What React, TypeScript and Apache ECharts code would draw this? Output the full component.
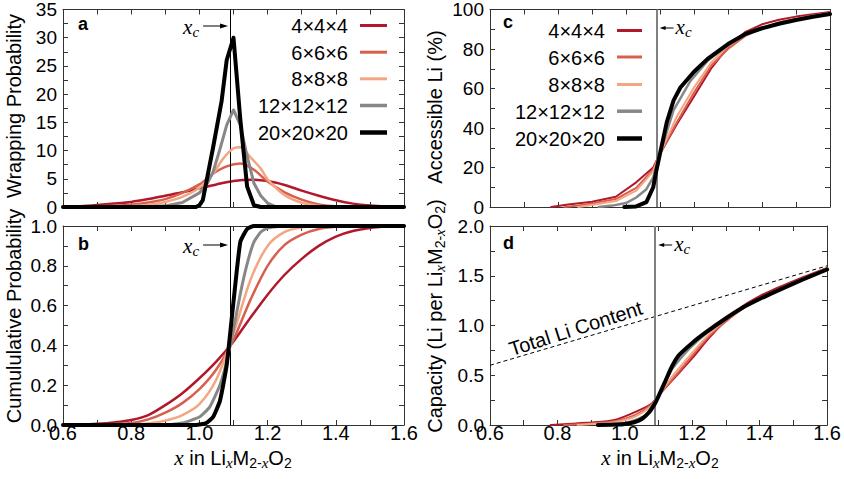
import React, { useEffect, useRef } from "react";
import * as echarts from "echarts";

// ---------- data ----------
const SIZES = ["4×4×4", "6×6×6", "8×8×8", "12×12×12", "20×20×20"];
const COLORS = ["#b2182b", "#d6604d", "#f4a582", "#878787", "#000000"];
const X_C = 1.09;

// panel a: wrapping probability
const WRAP_4 = [[0.6,0.05],[0.65,0.15],[0.7,0.35],[0.75,0.6],[0.8,0.9],[0.85,1.4],[0.9,2.0],[0.95,2.6],[1.0,3.3],[1.05,4.0],[1.1,4.6],[1.15,4.85],[1.2,4.6],[1.25,3.9],[1.3,2.9],[1.35,2.0],[1.4,1.2],[1.45,0.6],[1.5,0.25],[1.55,0.08],[1.6,0.02]];
const WRAP_6 = [[0.6,0.02],[0.7,0.1],[0.75,0.2],[0.8,0.4],[0.85,0.8],[0.9,1.4],[0.95,2.5],[1.0,4.0],[1.04,5.9],[1.08,7.2],[1.12,7.7],[1.16,6.6],[1.2,4.5],[1.25,2.6],[1.3,1.3],[1.35,0.45],[1.4,0.12],[1.45,0.02],[1.6,0]];
const WRAP_8 = [[0.6,0],[0.75,0.05],[0.8,0.15],[0.85,0.4],[0.9,0.9],[0.95,1.8],[1.0,3.4],[1.04,5.9],[1.07,8.6],[1.1,10.4],[1.12,10.6],[1.15,8.8],[1.18,6.8],[1.2,4.9],[1.25,2.1],[1.3,0.75],[1.35,0.2],[1.4,0.04],[1.45,0],[1.6,0]];
const WRAP_12 = [[0.6,0],[0.85,0],[0.9,0.2],[0.95,0.8],[1.0,2.5],[1.02,3.8],[1.04,6.2],[1.06,10.2],[1.08,14.5],[1.1,17.2],[1.12,14.5],[1.14,9.0],[1.16,4.2],[1.18,2.0],[1.2,0.7],[1.22,0.15],[1.24,0],[1.6,0]];
const WRAP_20 = [[0.6,0],[0.99,0],[1.0,0.3],[1.01,1.2],[1.04,10.5],[1.065,18.7],[1.08,26],[1.1,30],[1.12,15.5],[1.14,3.6],[1.16,0.3],[1.18,0],[1.6,0]];

// panel b: cumulative probability
const CUM_4 = [[0.6,0],[0.65,0.002],[0.7,0.006],[0.75,0.013],[0.8,0.025],[0.85,0.05],[0.9,0.1],[0.95,0.16],[1.0,0.235],[1.05,0.32],[1.1,0.42],[1.15,0.54],[1.2,0.655],[1.25,0.755],[1.3,0.835],[1.35,0.9],[1.4,0.947],[1.45,0.975],[1.5,0.99],[1.55,0.997],[1.6,1.0]];
const CUM_6 = [[0.6,0],[0.7,0.002],[0.8,0.01],[0.85,0.028],[0.9,0.062],[0.95,0.11],[1.0,0.18],[1.05,0.28],[1.1,0.43],[1.15,0.63],[1.2,0.8],[1.25,0.905],[1.3,0.957],[1.35,0.985],[1.4,0.996],[1.45,1.0],[1.6,1.0]];
const CUM_8 = [[0.6,0],[0.8,0.002],[0.85,0.008],[0.9,0.022],[0.95,0.05],[1.0,0.105],[1.05,0.23],[1.1,0.46],[1.15,0.73],[1.2,0.9],[1.25,0.97],[1.3,0.993],[1.35,1.0],[1.6,1.0]];
const CUM_12 = [[0.6,0],[0.9,0.002],[0.95,0.01],[1.0,0.04],[1.03,0.09],[1.06,0.2],[1.08,0.32],[1.1,0.48],[1.12,0.66],[1.14,0.81],[1.16,0.92],[1.18,0.97],[1.2,0.99],[1.25,1.0],[1.6,1.0]];
const CUM_20 = [[0.6,0],[0.99,0],[1.02,0.01],[1.04,0.04],[1.06,0.12],[1.08,0.3],[1.1,0.62],[1.12,0.92],[1.14,0.985],[1.16,1.0],[1.6,1.0]];

// panel c: accessible Li (%)
const ACC_4 = [[0.78,0],[0.83,1.3],[0.9,2.7],[0.97,5.2],[1.03,12.5],[1.08,20],[1.1,27],[1.15,42],[1.2,56],[1.25,70],[1.3,81],[1.35,88.5],[1.4,92.5],[1.45,94.8],[1.5,96.4],[1.55,97.6],[1.6,98.7]];
const ACC_6 = [[0.82,0],[0.86,0.8],[0.9,1.8],[0.97,4.0],[1.03,9.7],[1.08,19],[1.1,27],[1.15,43],[1.2,58],[1.25,71.5],[1.3,80],[1.35,86.5],[1.4,90.5],[1.45,93.5],[1.5,95.5],[1.55,97],[1.6,98.3]];
const ACC_8 = [[0.86,0],[0.9,1],[0.97,3],[1.03,8.3],[1.08,18],[1.1,27],[1.15,46],[1.2,60.5],[1.25,73],[1.3,81.5],[1.35,87],[1.4,90.5],[1.45,93.3],[1.5,95.3],[1.55,96.8],[1.6,98.1]];
const ACC_12 = [[0.92,0],[0.96,0.7],[1.0,2],[1.03,4.8],[1.06,9],[1.08,15],[1.1,27],[1.12,38],[1.14,49],[1.19,64],[1.24,74],[1.3,82],[1.35,87.2],[1.4,90.5],[1.45,93],[1.5,95],[1.55,96.5],[1.6,97.9]];
const ACC_20 = [[0.995,0],[1.03,0.3],[1.06,2.5],[1.08,10],[1.09,19],[1.1,27],[1.11,35],[1.12,43],[1.14,54],[1.16,60.5],[1.2,68.5],[1.24,75],[1.3,82.5],[1.35,87.5],[1.4,90.5],[1.45,92.8],[1.5,94.7],[1.55,96.3],[1.6,97.7]];

// panel d: capacity (Li per formula unit)
const CAP_4 = [[0.78,0],[0.83,0.011],[0.9,0.024],[0.97,0.05],[1.03,0.129],[1.08,0.216],[1.1,0.297],[1.15,0.483],[1.2,0.672],[1.25,0.875],[1.3,1.053],[1.35,1.195],[1.4,1.295],[1.45,1.375],[1.5,1.446],[1.55,1.513],[1.6,1.579]];
const CAP_6 = [[0.82,0],[0.86,0.007],[0.9,0.016],[0.97,0.039],[1.03,0.1],[1.08,0.205],[1.1,0.297],[1.15,0.495],[1.2,0.696],[1.25,0.894],[1.3,1.04],[1.35,1.168],[1.4,1.267],[1.45,1.356],[1.5,1.433],[1.55,1.504],[1.6,1.573]];
const CAP_8 = [[0.86,0],[0.9,0.009],[0.97,0.029],[1.03,0.085],[1.08,0.194],[1.1,0.297],[1.15,0.529],[1.2,0.726],[1.25,0.913],[1.3,1.06],[1.35,1.175],[1.4,1.267],[1.45,1.353],[1.5,1.43],[1.55,1.5],[1.6,1.57]];
const CAP_12 = [[0.92,0],[0.96,0.007],[1.0,0.02],[1.03,0.049],[1.06,0.095],[1.08,0.162],[1.1,0.297],[1.12,0.426],[1.14,0.559],[1.19,0.762],[1.24,0.918],[1.3,1.066],[1.35,1.177],[1.4,1.267],[1.45,1.349],[1.5,1.425],[1.55,1.496],[1.6,1.566]];
const CAP_20 = [[0.92,0],[0.98,0.004],[1.0,0.01],[1.03,0.03],[1.05,0.06],[1.07,0.12],[1.09,0.22],[1.1,0.29],[1.12,0.44],[1.14,0.59],[1.16,0.7],[1.2,0.825],[1.24,0.93],[1.3,1.073],[1.35,1.181],[1.4,1.267],[1.45,1.346],[1.5,1.421],[1.55,1.493],[1.6,1.563]];
const TOTAL_LI = [[0.6,0.6],[1.6,1.6]];

const X_RANGE = { min: 0.6, max: 1.6, interval: 0.2 };
const Y_RANGES = [
  { min: 0, max: 35, interval: 5, digits: 0 },
  { min: 0, max: 1.0, interval: 0.2, digits: 1 },
  { min: 0, max: 100, interval: 20, digits: 0 },
  { min: 0, max: 2.0, interval: 0.5, digits: 1 },
];

// ---------- styling ----------
const SANS = "'Liberation Sans', Arial, Helvetica, sans-serif";
const SERIF = "'Liberation Serif', 'Times New Roman', serif";
const AX = "#333333";
const FS = 20;
const GRIDS = [
  { left: 63, top: 7, width: 341, height: 200 },
  { left: 63, top: 226, width: 341, height: 199 },
  { left: 490, top: 7, width: 340, height: 200 },
  { left: 490, top: 226, width: 340, height: 199 },
];

const RICH: any = {
  n: { fontFamily: SANS, fontSize: FS, lineHeight: 24, fill: "#000" },
  i: { fontFamily: SERIF, fontStyle: "italic", fontSize: 21, lineHeight: 24, fill: "#000" },
  s: { fontFamily: SANS, fontSize: 14, lineHeight: 12, verticalAlign: "bottom", fill: "#000" },
  si: { fontFamily: SERIF, fontStyle: "italic", fontSize: 15, lineHeight: 12, verticalAlign: "bottom", fill: "#000" },
};

function axisBase(range: any, showLabel: boolean, isY: boolean, digits: number) {
  return {
    type: "value",
    min: range.min,
    max: range.max,
    interval: range.interval,
    axisLine: { show: true, onZero: false, lineStyle: { color: AX, width: 1 } },
    axisTick: { show: true, inside: true, length: 5, lineStyle: { color: AX, width: 1 } },
    minorTick: { show: true, splitNumber: 2, length: 5, lineStyle: { color: AX, width: 1 } },
    splitLine: { show: false },
    minorSplitLine: { show: false },
    axisLabel: {
      show: showLabel,
      fontFamily: SANS,
      fontSize: isY ? 19 : FS,
      lineHeight: isY ? 19 : FS,
      color: "#000",
      margin: isY ? 6 : -2,
      showMinLabel: true,
      showMaxLabel: true,
      formatter: (v: number) => v.toFixed(digits),
    },
  };
}

function lineSeries(g: number, data: number[][], k: number, width: number, smooth: any) {
  return {
    type: "line",
    xAxisIndex: 2 * g,
    yAxisIndex: 2 * g,
    data,
    showSymbol: false,
    symbol: "none",
    smooth,
    lineStyle: { color: COLORS[k], width, cap: "round", join: "round" },
    z: 3 + k,
    silent: true,
  };
}

function xcMark(color: string, width: number) {
  return {
    silent: true,
    symbol: ["none", "none"],
    label: { show: false },
    lineStyle: { color, width, type: "solid" },
    data: [{ xAxis: X_C }],
  };
}

function buildOption() {
  const xAxis: any[] = [];
  const yAxis: any[] = [];
  for (let g = 0; g < 4; g++) {
    const bottomLabels = g === 1 || g === 3;
    xAxis.push({ ...axisBase(X_RANGE, bottomLabels, false, 1), gridIndex: g, position: "bottom" });
    xAxis.push({ ...axisBase(X_RANGE, false, false, 1), gridIndex: g, position: "top" });
    yAxis.push({ ...axisBase(Y_RANGES[g], true, true, Y_RANGES[g].digits), gridIndex: g, position: "left" });
    yAxis.push({ ...axisBase(Y_RANGES[g], false, true, Y_RANGES[g].digits), gridIndex: g, position: "right" });
  }
  const wrap = [WRAP_4, WRAP_6, WRAP_8, WRAP_12, WRAP_20];
  const cum = [CUM_4, CUM_6, CUM_8, CUM_12, CUM_20];
  const acc = [ACC_4, ACC_6, ACC_8, ACC_12, ACC_20];
  const cap = [CAP_4, CAP_6, CAP_8, CAP_12, CAP_20];
  const wAB = [2.5, 2.5, 2.5, 3, 4];
  const wCD = [2, 2, 2, 2.5, 4];
  const series: any[] = [];
  wrap.forEach((d, k) => series.push(lineSeries(0, d, k, wAB[k], k < 3 ? 0.3 : false)));
  cum.forEach((d, k) => series.push(lineSeries(1, d, k, wAB[k], k < 3 ? 0.3 : 0.15)));
  acc.forEach((d, k) => series.push(lineSeries(2, d, k, wCD[k], false)));
  cap.forEach((d, k) => series.push(lineSeries(3, d, k, wCD[k], 0.25)));
  series.push({
    type: "line",
    xAxisIndex: 6,
    yAxisIndex: 6,
    data: TOTAL_LI,
    showSymbol: false,
    symbol: "none",
    lineStyle: { color: "#000", width: 1, type: [4, 3] },
    z: 2,
    silent: true,
  });
  // x_c vertical lines
  series[0].markLine = xcMark("#000", 1);
  series[5].markLine = xcMark("#000", 1);
  series[10].markLine = xcMark("#808080", 2);
  series[15].markLine = xcMark("#808080", 2);

  return {
    animation: false,
    backgroundColor: "#ffffff",
    grid: GRIDS.map((g) => ({ ...g, containLabel: false })),
    xAxis,
    yAxis,
    series,
  };
}

function txt(x: number, y: number, text: string, opts: any = {}) {
  const align = opts.align || "left";
  return {
    type: "text",
    x,
    y,
    rotation: opts.rotation || 0,
    z: 100,
    silent: true,
    style: {
      text,
      rich: opts.rich,
      fill: "#000",
      fontFamily: opts.fontFamily || SANS,
      fontSize: opts.fontSize || FS,
      fontWeight: opts.fontWeight || "normal",
      fontStyle: opts.fontStyle || "normal",
      align,
      textAlign: align,
      verticalAlign: "middle",
      textVerticalAlign: "middle",
    },
  };
}

function buildGraphics(chart: any) {
  const px = (g: number, x: number, y: number) => chart.convertToPixel({ gridIndex: g }, [x, y]);
  const els: any[] = [];
  // axis titles
  const xTitle = "{i|x}{n| in Li}{si|x}{n|M}{s|2-}{si|x}{n|O}{s|2}";
  els.push(txt(233, 458, xTitle, { align: "center", rich: RICH }));
  els.push(txt(660, 458, xTitle, { align: "center", rich: RICH }));
  els.push(txt(14, 106, "Wrapping Probability", { align: "center", rotation: Math.PI / 2 }));
  els.push(txt(14, 316, "Cumululative Probability", { align: "center", rotation: Math.PI / 2 }));
  els.push(txt(435, 107, "Accessible Li (%)", { align: "center", rotation: Math.PI / 2 }));
  els.push(
    txt(435, 316, "{n|Capacity (Li per Li}{si|x}{n|M}{s|2-}{si|x}{n|O}{s|2}{n|)}", {
      align: "center",
      rotation: Math.PI / 2,
      rich: RICH,
    })
  );
  // panel letters
  const letters = ["a", "b", "c", "d"];
  const letterPos = [[78, 24], [78, 244], [503, 22], [503, 243]];
  letters.forEach((l, i) =>
    els.push(txt(letterPos[i][0], letterPos[i][1], l, { fontWeight: "bold", fontSize: 18 }))
  );
  // legends
  const legW = [3, 3, 3, 3.5, 4.5];
  const legA = { textRight: 348, x1: 360, x2: 387, ys: [26, 52.7, 79.3, 106, 133] };
  const legC = { textRight: 605, x1: 617, x2: 642, ys: [31, 57.5, 85, 111.7, 139] };
  [legA, legC].forEach((L) => {
    SIZES.forEach((s, k) => {
      els.push(txt(L.textRight, L.ys[k], s, { align: "right", fontSize: 20 }));
      els.push({
        type: "line",
        z: 100,
        silent: true,
        shape: { x1: L.x1, y1: L.ys[k] - 0.5, x2: L.x2, y2: L.ys[k] - 0.5 },
        style: { stroke: COLORS[k], lineWidth: legW[k] },
      });
    });
  });
  // x_c annotations
  const xcRich = "{i|x}{si|c}";
  [0, 1].forEach((g) => {
    const xcX = px(g, X_C, 0)[0];
    const top = GRIDS[g].top;
    const ay = top + 19;
    els.push(txt(xcX - 31, ay + 1, xcRich, { align: "right", rich: RICH }));
    els.push({ type: "line", z: 100, silent: true, shape: { x1: xcX - 27, y1: ay, x2: xcX - 8, y2: ay }, style: { stroke: "#000", lineWidth: 1 } });
    els.push({ type: "polygon", z: 100, silent: true, shape: { points: [[xcX - 2, ay], [xcX - 10, ay - 2.5], [xcX - 10, ay + 2.5]] }, style: { fill: "#000" } });
  });
  [2, 3].forEach((g) => {
    const xcX = px(g, X_C, 0)[0];
    const top = GRIDS[g].top;
    const ay = top + (g === 2 ? 21 : 19);
    els.push(txt(xcX + 19, ay - 1, xcRich, { align: "left", rich: RICH }));
    els.push({ type: "line", z: 100, silent: true, shape: { x1: xcX + 7, y1: ay, x2: xcX + 17, y2: ay }, style: { stroke: "#000", lineWidth: 1 } });
    els.push({ type: "polygon", z: 100, silent: true, shape: { points: [[xcX + 3, ay], [xcX + 9, ay - 2], [xcX + 9, ay + 2]] }, style: { fill: "#000" } });
  });
  // Total Li Content label
  const p = px(3, 0.86, 0.86);
  els.push(txt(p[0] - 2, p[1] - 11, "Total Li Content", { align: "center", rotation: 0.31 }));
  return els;
}

export default function App() {
  const ref = useRef<HTMLDivElement>(null);
  useEffect(() => {
    if (!ref.current) return;
    const chart = echarts.init(ref.current, undefined, { renderer: "svg" });
    chart.setOption(buildOption());
    chart.setOption({ graphic: { elements: buildGraphics(chart) } });
    return () => chart.dispose();
  }, []);
  return (
    <div
      ref={ref}
      style={{ position: "fixed", left: 0, top: 0, width: 844, height: 479, background: "#fff" }}
    />
  );
}
